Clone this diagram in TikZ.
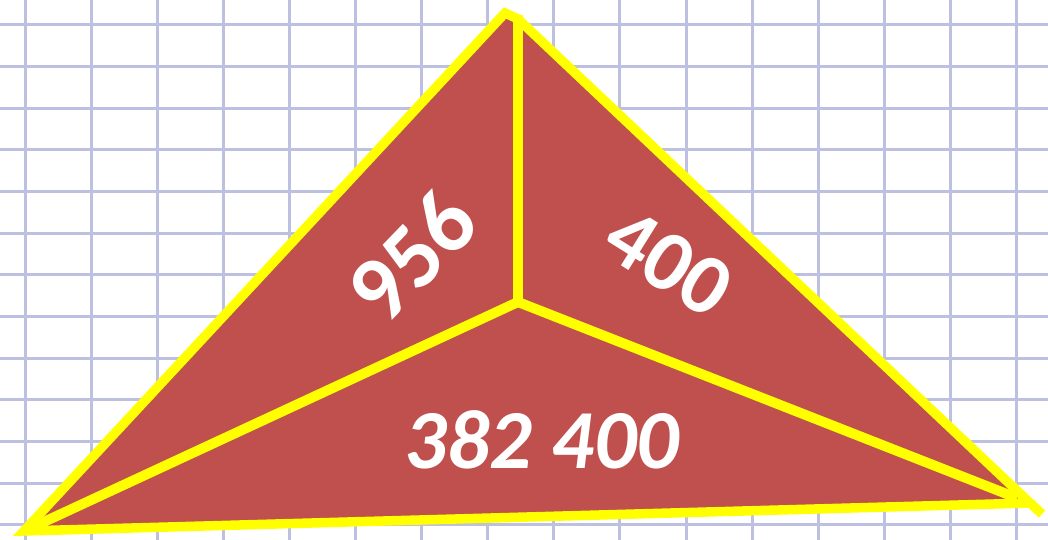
\documentclass[tikz,border=0pt]{standalone}
\usepackage{fontspec}
\setmainfont{Carlito}
\definecolor{gridc}{RGB}{190,192,226}
\definecolor{facered}{RGB}{192,80,77}
\definecolor{edgey}{RGB}{255,255,0}
\tikzset{
  gridline/.style={draw=gridc, line width=3pt},
  edge/.style={draw=edgey, line width=9.5pt, line join=miter},
  numlabel/.style={text=white, font=\fontsize{84}{84}\selectfont\bfseries, inner sep=0pt}
}
\begin{document}
\begin{tikzpicture}[x=1pt,y=-1pt]
\useasboundingbox (0,0) rectangle (1048,540);
\fill[white] (0,0) rectangle (1048,540);
% grid paper
\foreach \k in {0,...,15} \draw[gridline] ({25+66.1*\k},0) -- ({25+66.1*\k},540);
\foreach \k in {0,...,12} \draw[gridline] (0,{25+41.65*\k}) -- (1048,{25+41.65*\k});
% vertices
\coordinate (BL) at (24,531);
\coordinate (AL) at (505,13);
\coordinate (T) at (518,19);
\coordinate (TT) at (518,15);
\coordinate (BR) at (1030,503);
\coordinate (C) at (518,302);
\coordinate (BRx) at (1042,514);
\coordinate (BLi) at (33,527);
\coordinate (BRi) at (1017,498);
% faces
\fill[facered] (BL) -- (AL) -- (T) -- (BR) -- cycle;
% outline
\draw[edge] (BL) -- (AL) -- (T) -- (BR) -- cycle;
\draw[edge] (BR) -- (BRx);
% inner edges
\draw[edge] (TT) -- (C);
\draw[edge, line width=10pt] (C) -- (BLi);
\draw[edge, line width=10pt] (C) -- (BRi);
% labels
\node[numlabel, rotate=46, font=\fontsize{92}{92}\selectfont\bfseries] (l956) at (412,256) {956};
\node[numlabel, rotate=-32, font=\fontsize{86}{86}\selectfont\bfseries] (l400) at (669,262) {400};
\node[numlabel, font=\fontsize{84}{84}\selectfont\bfseries\itshape] (l382) at (542,440) {382 400};
\end{tikzpicture}
\end{document}
